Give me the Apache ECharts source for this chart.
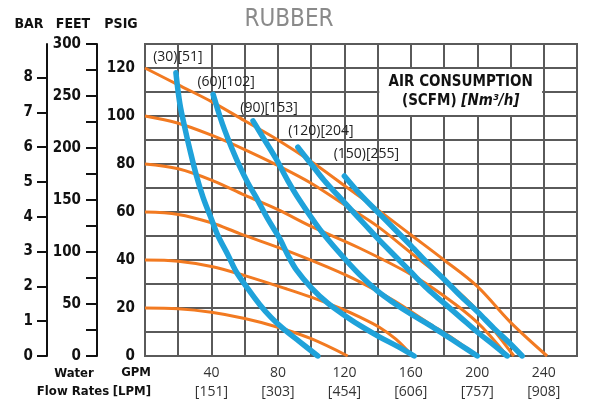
<!DOCTYPE html>
<html>
<head>
<meta charset="utf-8">
<script src="https://cdn.jsdelivr.net/npm/echarts@6/dist/echarts.min.js"></script>
<style>html,body{margin:0;padding:0;background:#fff}#c{width:600px;height:406px}</style>
</head>
<body>
<div id="c"></div>
<script>
// ---- tick labels ----
const gpmTicks = [40, 80, 120, 160, 200, 240];
const lpmTicks = [151, 303, 454, 606, 757, 908];
const psigTicks = [0, 20, 40, 60, 80, 100, 120];
const feetLabels = [0, 50, 100, 150, 200, 250, 300];
const feetTicks = [0, 25, 50, 75, 100, 125, 150, 175, 200, 225, 250, 275, 300];
const barTicks = [0, 1, 2, 3, 4, 5, 6, 7, 8];

// ---- pressure curves (GPM, PSIG) ----
const p20 = [[0,20],[20,19.7],[40,18.2],[60,15.6],[80,12],[100,7.2],[122,0]];
const p40 = [[0,40],[20,39.5],[40,37.3],[60,33.5],[85,28],[100,24.5],[117,20],[130,16],[141,12],[151,7],[161,0]];
const p60 = [[0,60],[20,59],[40,55.5],[57,51],[85,44],[110,37],[129,31],[150,23],[170,14],[186,7],[200,0]];
const p80 = [[0,80],[20,78],[41,73],[60,67],[80,61],[100,54],[129,45],[160,34],[180,25],[200,14],[218,0]];
const p100 = [[0,100],[20,97],[40,92],[60,86],[81,79],[100,72],[120,63],[140,54],[160,43],[180,32],[200,19],[222,0]];
const p120 = [[0,120],[20,113],[40,106],[60,98],[80,90],[100,81],[120,71],[140,61],[160,50.5],[180,40],[200,29],[220,14],[242,0]];

// ---- air consumption curves (GPM, PSIG) ----
const a30 = [[18.6,118],[21,105],[24,95],[27,86],[31,75],[35,66],[40,57],[44,50],[50,42],[55,35],[62,28],[69,21.5],[76,16],[83,11.5],[93,6],[104,0]];
const a60 = [[41,109],[45,100],[48,94],[52,87],[57,79],[62,72],[67,66],[74,57],[81,49],[86,42],[91,36],[100,28.5],[110,22],[121,16.5],[131,12],[141,8],[152,4],[162,0]];
const a90 = [[65,98],[72,90],[79,82],[86,73],[93,65],[105,53],[117,43],[129,34],[140,27],[150,22],[160,17.5],[171,13],[180,9],[190,4.5],[200,0]];
const a120 = [[92,87],[100,80],[108,73],[116,67],[124,61],[132,55],[140,49],[150,42],[160,35],[170,28],[180,22],[190,16],[200,10],[210,4.5],[218,0]];
const a150 = [[120,75],[130,67],[140,60],[150,53],[160,46],[171,38],[180,32],[190,25],[200,18.5],[210,11.5],[220,5],[227,0]];

const airNames = ['(30)[51]', '(60)[102]', '(90)[153]', '(120)[204]', '(150)[255]'];
const airLabelOffsets = [[2,-16],[13,-12],[16,-13],[23,-16],[22,-22]];

const ORANGE = '#f27a21';
const BLUE = '#1fa2da';
const GRIDC = '#5a5a5a';
const NARROW = "'Liberation Sans Narrow','DejaVu Sans Condensed',sans-serif";
const REG = "'Open Sans','Noto Sans',sans-serif";

const chart = echarts.init(document.getElementById('c'), null, {renderer: 'canvas'});

const pressureSeries = [p20, p40, p60, p80, p100, p120].map((d, i) => ({
  type: 'line', data: d, smooth: 0.35, showSymbol: false, z: 3,
  lineStyle: {color: ORANGE, width: 3}, silent: true
}));
const airSeries = [a30, a60, a90, a120, a150].map((d, i) => ({
  type: 'line', data: d, smooth: 0.35, showSymbol: false, z: 4,
  lineStyle: {color: BLUE, width: 5.5, cap: 'round'}, silent: true,
  markPoint: {
    symbol: 'circle', symbolSize: 0, silent: true,
    data: [{coord: d[0], value: airNames[i]}],
    label: {show: true, position: 'inside', offset: airLabelOffsets[i], formatter: airNames[i],
      color: '#222', fontSize: 14, fontFamily: REG}
  }
}));

pressureSeries[5].markArea = {
  silent: true,
  itemStyle: {color: '#ffffff', opacity: 1},
  label: {
    show: true, position: 'inside',
    formatter: '{a|AIR CONSUMPTION}\n{a|(SCFM) }{b|[Nm³/h]}',
    rich: {
      a: {fontFamily: NARROW, fontWeight: 'bold', fontSize: 15, color: '#111', lineHeight: 19},
      b: {fontFamily: NARROW, fontWeight: 'bold', fontStyle: 'italic', fontSize: 15, color: '#111', lineHeight: 19}
    }
  },
  data: [[{coord: [141, 119.6]}, {coord: [239, 100.4]}]]
};

const HFONT = "bold 14px 'Liberation Sans Narrow','DejaVu Sans Condensed',sans-serif";
const BFONT = "bold 13px 'Liberation Sans Narrow','DejaVu Sans Condensed',sans-serif";

const option = {
  animation: false,
  backgroundColor: '#ffffff',
  grid: {left: 145, right: 23, top: 44, bottom: 50, show: true, borderColor: GRIDC, borderWidth: 2, containLabel: false},
  xAxis: {
    type: 'value', min: 0, max: 260, interval: 20,
    axisLine: {show: false}, axisTick: {show: false},
    splitLine: {show: true, lineStyle: {color: GRIDC, width: 2}},
    axisLabel: {
      customValues: gpmTicks, margin: 8, color: '#333', fontFamily: REG, fontSize: 14, lineHeight: 19,
      formatter: v => v + '\n[' + lpmTicks[gpmTicks.indexOf(v)] + ']'
    }
  },
  yAxis: [
    {
      type: 'value', min: 0, max: 130, interval: 10, position: 'left',
      axisLine: {show: false}, axisTick: {show: false},
      splitLine: {show: true, lineStyle: {color: GRIDC, width: 2}},
      axisLabel: {customValues: psigTicks, margin: 10, color: '#111', fontFamily: NARROW, fontWeight: 'bold', fontSize: 15}
    },
    {
      type: 'value', min: 0, max: 300, position: 'left', offset: 48,
      axisLine: {show: true, lineStyle: {color: '#111', width: 2}},
      axisTick: {show: true, customValues: feetTicks, length: 11, lineStyle: {color: '#111', width: 2}},
      splitLine: {show: false},
      axisLabel: {customValues: feetLabels, margin: 16, color: '#111', fontFamily: NARROW, fontWeight: 'bold', fontSize: 15}
    },
    {
      type: 'value', min: 0, max: 130 / 14.5038, position: 'left', offset: 98,
      axisLine: {show: true, lineStyle: {color: '#111', width: 2}},
      axisTick: {show: true, customValues: barTicks, length: 10, lineStyle: {color: '#111', width: 2}},
      splitLine: {show: false},
      axisLabel: {customValues: barTicks, margin: 14, color: '#111', fontFamily: NARROW, fontWeight: 'bold', fontSize: 15}
    }
  ],
  graphic: [
    {type: 'text', style: {text: 'RUBBER', x: 289, y: 20, align: 'center', verticalAlign: 'middle', fill: '#8a8a8a', font: "24px 'Liberation Sans Narrow','DejaVu Sans Condensed',sans-serif"}},
    {type: 'text', style: {text: 'BAR', x: 29, y: 24, align: 'center', verticalAlign: 'middle', fill: '#111', font: HFONT}},
    {type: 'text', style: {text: 'FEET', x: 73, y: 24, align: 'center', verticalAlign: 'middle', fill: '#111', font: HFONT}},
    {type: 'text', style: {text: 'PSIG', x: 121, y: 24, align: 'center', verticalAlign: 'middle', fill: '#111', font: HFONT}},
    {type: 'text', style: {text: 'Water', x: 74, y: 374, align: 'center', verticalAlign: 'middle', fill: '#111', font: BFONT}},
    {type: 'text', style: {text: 'Flow Rates', x: 73, y: 392, align: 'center', verticalAlign: 'middle', fill: '#111', font: BFONT}},
    {type: 'text', style: {text: 'GPM', x: 151, y: 373, align: 'right', verticalAlign: 'middle', fill: '#111', font: BFONT}},
    {type: 'text', style: {text: '[LPM]', x: 151, y: 392, align: 'right', verticalAlign: 'middle', fill: '#111', font: BFONT}}
  ],
  series: pressureSeries.concat(airSeries)
};
chart.setOption(option);
</script>
</body>
</html>
